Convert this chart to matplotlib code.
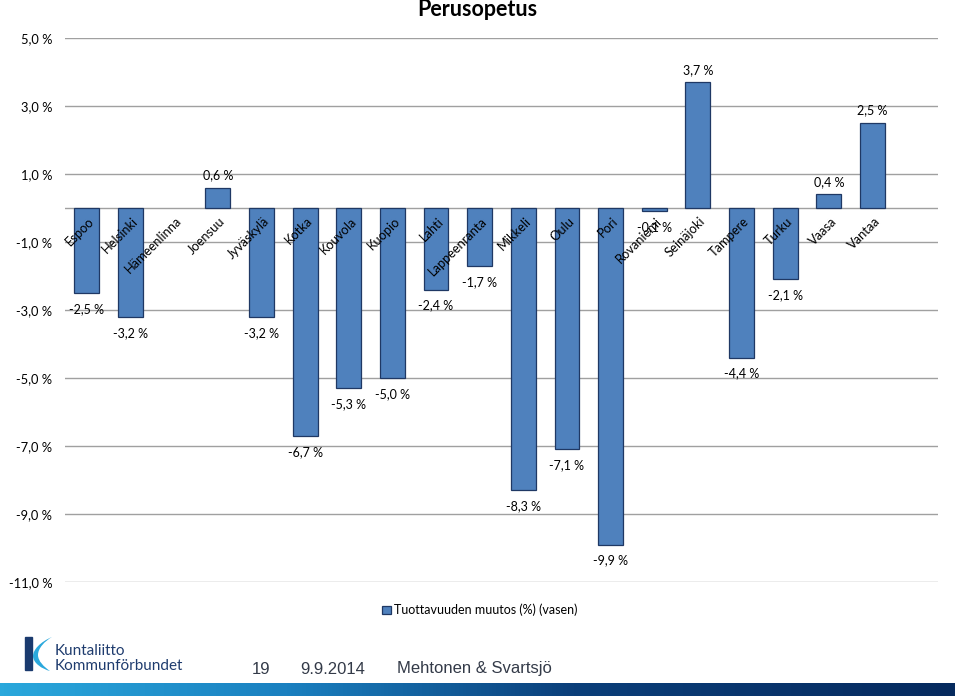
import numpy as np
import matplotlib
matplotlib.use("Agg")
import matplotlib.pyplot as plt
from matplotlib.patches import Rectangle, PathPatch, Patch
from matplotlib.path import Path
from matplotlib.colors import LinearSegmentedColormap

cities = ["Espoo", "Helsinki", "Hämeenlinna", "Joensuu", "Jyväskylä", "Kotka",
          "Kouvola", "Kuopio", "Lahti", "Lappeenranta", "Mikkeli", "Oulu", "Pori",
          "Rovaniemi", "Seinäjoki", "Tampere", "Turku", "Vaasa", "Vantaa"]
values = [-2.5, -3.2, np.nan, 0.6, -3.2, -6.7, -5.3, -5.0, -2.4, -1.7, -8.3,
          -7.1, -9.9, -0.1, 3.7, -4.4, -2.1, 0.4, 2.5]
yticks = [5, 3, 1, -1, -3, -5, -7, -9, -11]
series_name = "Tuottavuuden muutos (%) (vasen)"
title = "Perusopetus"

W, H = 960, 698
fig = plt.figure(figsize=(9.6, 6.98), dpi=100)
fig.patch.set_facecolor("white")

def fx(px):
    return px / W

def fy(py):
    return 1 - py / H

font = "Lato"
bar_color = "#4F81BD"
edge_color = "#1F3864"
grid_color = "#A0A0A0"

ax = fig.add_axes([fx(65), fy(582), fx(938) - fx(65), fy(38) - fy(582)])
x = np.arange(len(cities))
ax.bar(x, values, width=0.57, color=bar_color, edgecolor=edge_color, linewidth=0.9, zorder=3)
ax.set_xlim(-0.5, 19.5)
ax.set_ylim(-11, 5)
ax.set_yticks(yticks)
ax.set_yticklabels([f"{t:.1f}".replace(".", ",") + " %" for t in yticks],
                   fontfamily=font, fontsize=9.3)
ax.tick_params(axis="y", length=0, pad=9)
ax.set_xticks([])
for s in ax.spines.values():
    s.set_visible(False)
ax.grid(axis="y", color=grid_color, linewidth=1.0, zorder=0)
ax.axhline(0, color=grid_color, linewidth=1.0, zorder=2)

# category labels
for i, c in enumerate(cities):
    ax.annotate(c, xy=(i, 0), xytext=(4, -8), textcoords="offset points",
                ha="right", va="center", rotation=45, rotation_mode="anchor",
                fontfamily=font, fontsize=9.3, zorder=5)

# data labels
for i, v in enumerate(values):
    if np.isnan(v):
        continue
    lab = f"{v:.1f}".replace(".", ",") + " %"
    off = -11.5 if v < 0 else 9
    ax.annotate(lab, xy=(i, v), xytext=(0, off), textcoords="offset points",
                ha="center", va="center", fontfamily=font, fontsize=9, zorder=5)

# title
fig.text(fx(477), fy(10), title, ha="center", va="center", fontsize=15.5,
         fontweight="bold", fontfamily=font)

# legend
fig.legend(handles=[Patch(facecolor=bar_color, edgecolor=edge_color, linewidth=0.9)],
           labels=[series_name], loc="center", bbox_to_anchor=(fx(480), fy(610)),
           frameon=False, handlelength=0.7, handleheight=0.7, handletextpad=0.3,
           prop={"family": font, "size": 9})

# footer gradient bar
cmap = LinearSegmentedColormap.from_list("g", [(0, "#2aa8dc"), (0.3, "#1a80c0"),
                                                (0.6, "#0b3f7a"), (1, "#062a5e")])
gax = fig.add_axes([0, fy(696), fx(955), fy(683) - fy(696)])
gax.imshow(np.linspace(0, 1, 256)[None, :], aspect="auto", cmap=cmap)
gax.axis("off")

# logo
lax = fig.add_axes([0, 0, 1, 1], facecolor="none")
lax.set_xlim(0, W)
lax.set_ylim(H, 0)
lax.axis("off")
lax.add_patch(Rectangle((25, 637), 7, 33, color="#1a3a6e"))
verts = [(52, 637), (40, 642), (33, 650), (33, 656),
         (33, 663), (42, 669), (50, 671),
         (44, 667), (38, 661), (38, 655),
         (38, 648), (45, 641), (52, 637)]
codes = [Path.MOVETO, Path.CURVE4, Path.CURVE4, Path.CURVE4,
         Path.CURVE4, Path.CURVE4, Path.CURVE4,
         Path.CURVE4, Path.CURVE4, Path.CURVE4,
         Path.CURVE4, Path.CURVE4, Path.CURVE4]
lax.add_patch(PathPatch(Path(verts, codes), facecolor="#2aa8dc", edgecolor="none"))
lax.text(55, 651, "Kuntaliitto", fontfamily=font, fontsize=11, color="#1f3c6e",
         va="center", ha="left")
lax.text(55, 666, "Kommunförbundet", fontfamily=font, fontsize=11, color="#1f3c6e",
         va="center", ha="left")
for xp, t in [(252, "19"), (300, "9.9.2014"), (397, "Mehtonen & Svartsjö")]:
    lax.text(xp, 669, t, fontfamily="Liberation Sans", fontsize=12, color="#333a48",
             va="center", ha="left")

fig.savefig("out.png", dpi=100)
